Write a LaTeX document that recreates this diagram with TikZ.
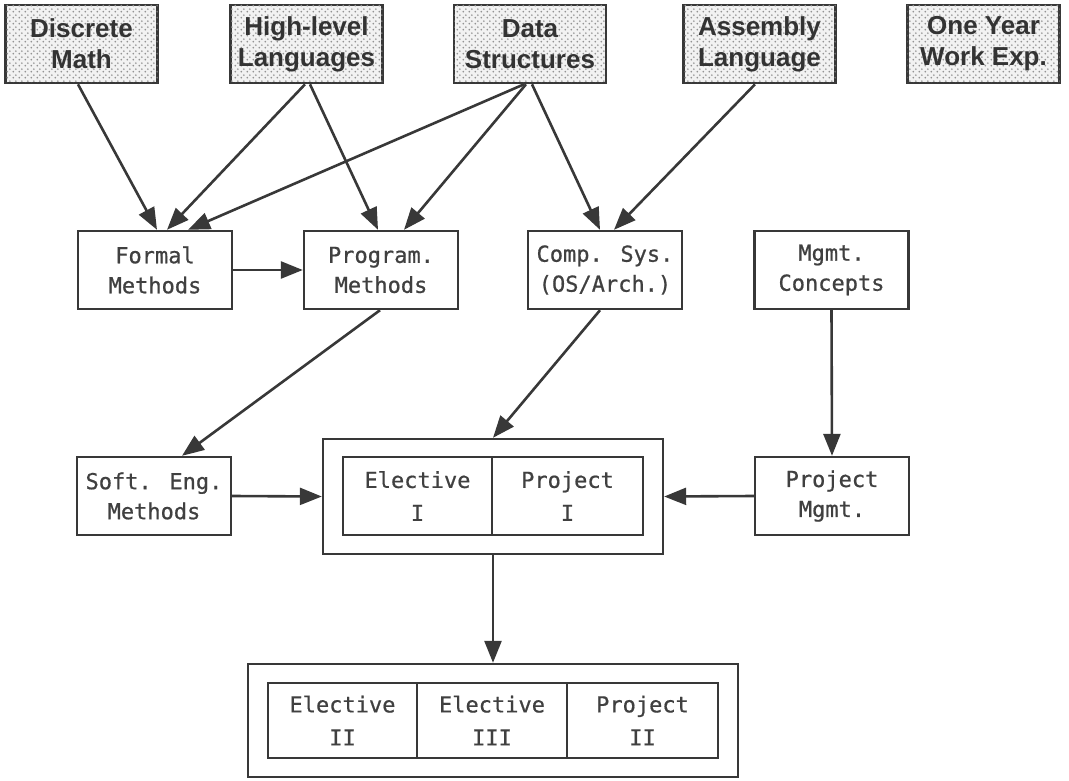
\documentclass[tikz,border=0pt]{standalone}
\usepackage{fontspec}
\setmainfont{DejaVu Sans Mono}
\newfontfamily\coursefont{DejaVu Sans Mono}[FakeBold=0.7]
\newfontfamily\topfont{Liberation Sans}
\usetikzlibrary{arrows.meta,patterns.meta}

% coarse dot screen for the prerequisite boxes
\tikzdeclarepattern{
  name=screendots,
  type=uncolored,
  bounding box={(0pt,0pt) and (6pt,6pt)},
  tile size={(6pt,6pt)},
  code={
    \fill (1.5pt,1.5pt) circle (1.1pt);
    \fill (4.5pt,4.5pt) circle (1.1pt);
  }
}

\definecolor{ink}{gray}{0.22}
\definecolor{txt}{gray}{0.25}

\tikzset{
  prereq/.style={draw=ink, line width=2.6pt, fill=gray!10,
    postaction={pattern=screendots, pattern color=gray!85},
    minimum width=152pt, minimum height=78pt, inner sep=0pt,
    align=center, text=black!80,
    font=\topfont\bfseries\fontsize{26}{31}\selectfont},
  course/.style={draw=ink, line width=2.4pt, fill=white,
    minimum width=154pt, minimum height=78pt, inner sep=0pt,
    align=center, text=txt, font=\coursefont\fontsize{22}{30}\selectfont},
  cell/.style={draw=ink, line width=2.2pt,
    minimum height=78pt, inner sep=0pt,
    align=center, text=txt, font=\coursefont\fontsize{22}{33}\selectfont},
  frame/.style={draw=ink, line width=2.4pt, inner sep=0pt},
  link/.style={draw=ink, line width=2.6pt,
    -{Triangle[length=22pt,width=17pt]}},
}

\begin{document}
\begin{tikzpicture}[x=1pt,y=-1pt]
\useasboundingbox (0,0) rectangle (1069,781);

% prerequisites
\node[prereq] (disc) at (81.5,44) {Discrete\\Math};
\node[prereq] (high) at (306.5,44) {High-level\\Languages};
\node[prereq] (data) at (530,44) {Data\\Structures};
\node[prereq] (asm)  at (759.5,44) {Assembly\\Language};
\node[prereq] (work) at (983.5,44) {One Year\\Work Exp.};

% core courses
\node[course] (formal) at (155,270) {Formal\\Methods};
\node[course] (prog)   at (381,270) {Program.\\Methods};
\node[course] (comp)   at (605,270) {Comp. Sys.\\(OS/Arch.)};
\node[course] (mgmt)   at (831.5,270) {Mgmt.\\Concepts};

\node[course] (soft)  at (154,496) {Soft. Eng.\\Methods};
\node[course] (pmgmt) at (832,496) {Project\\Mgmt.};

% first term block
\node[frame, minimum width=340pt, minimum height=115pt] (blockA) at (493,496.5) {};
\node[cell, minimum width=149pt] (elecI) at (417.5,496) {Elective\\I};
\node[cell, minimum width=151pt] (projI) at (567.5,496) {Project\\I};

% second term block
\node[frame, minimum width=490pt, minimum height=113pt] (blockB) at (493,720.5) {};
\node[cell, minimum width=149pt, minimum height=75pt] (elecII)  at (342.5,720.5) {Elective\\II};
\node[cell, minimum width=150pt, minimum height=75pt] (elecIII) at (492,720.5) {Elective\\III};
\node[cell, minimum width=151pt, minimum height=75pt] (projII)  at (642.5,720.5) {Project\\II};

% prerequisite links
\draw[link] ([xshift=-3.5pt]disc.south) -- ([xshift=2pt]formal.north);
\draw[link] ([xshift=-1.5pt]high.south) -- ([xshift=12pt]formal.north);
\draw[link] ([xshift=3.5pt]high.south)  -- ([xshift=-3pt]prog.north);
\draw[link] ([xshift=-6pt]data.south)   -- ([xshift=33pt]formal.north);
\draw[link] ([xshift=-4pt]data.south)   -- ([xshift=23pt]prog.north);
\draw[link] ([xshift=2pt]data.south)    -- ([xshift=-5pt]comp.north);
\draw[link] ([xshift=-4.5pt]asm.south)  -- ([xshift=9pt]comp.north);

% course links
\draw[link] (formal.east) -- (prog.west);
\draw[link] ([xshift=-1pt]prog.south) -- ([xshift=28pt]soft.north);
\draw[link] ([xshift=-5pt]comp.south) -- (blockA.north);
\draw[link] (mgmt.south) -- (pmgmt.north);
\draw[link] (soft.east) -- (blockA.west);
\draw[link] (pmgmt.west) -- (blockA.east);
\draw[link] (blockA.south) -- (blockB.north);
\end{tikzpicture}
\end{document}
